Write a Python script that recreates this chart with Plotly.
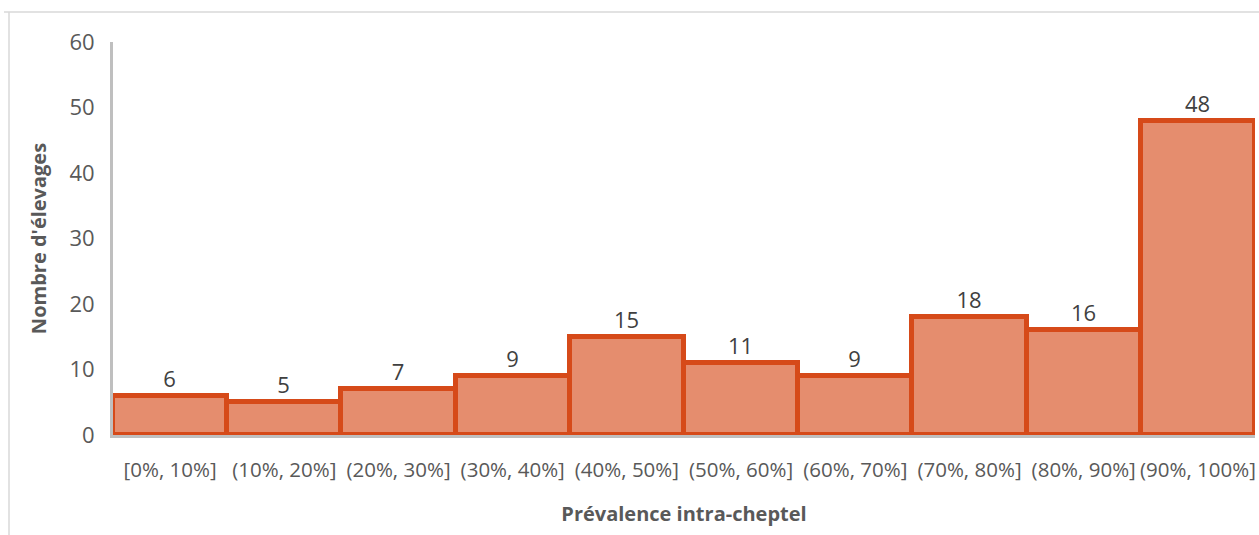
import plotly.graph_objects as go

categories = ["[0%, 10%]", "(10%, 20%]", "(20%, 30%]", "(30%, 40%]", "(40%, 50%]",
              "(50%, 60%]", "(60%, 70%]", "(70%, 80%]", "(80%, 90%]", "(90%, 100%]"]
counts = [6, 5, 7, 9, 15, 11, 9, 18, 16, 48]
y_ticks = [0, 10, 20, 30, 40, 50, 60]

W, H = 1259, 535
ml, mr, mt, mb = 113, 4, 42, 100

fig = go.Figure(go.Bar(
    x=categories, y=counts,
    marker=dict(color="#E58D6E", line=dict(color="#D64A19", width=5)),
    text=[str(c) for c in counts], textposition="outside",
    textfont=dict(family="Open Sans", size=22, color="#404040"),
    cliponaxis=False,
))

fig.update_layout(
    width=W, height=H,
    margin=dict(l=ml, r=mr, t=mt, b=mb),
    paper_bgcolor="white", plot_bgcolor="white",
    bargap=0, showlegend=False,
    font=dict(family="Open Sans", color="#595959"),
)
fig.update_xaxes(
    tickfont=dict(size=20.5, color="#595959"),
    showline=True, linecolor="#BFBFBF", linewidth=3,
    showgrid=False, ticks="", ticklabelstandoff=14,
    title=dict(text="<b>Prévalence intra-cheptel</b>", font=dict(size=20, color="#595959"), standoff=26),
)
fig.update_yaxes(
    range=[0, 60], tickvals=y_ticks,
    tickfont=dict(size=22, color="#595959"),
    showline=True, linecolor="#BFBFBF", linewidth=3,
    showgrid=False, ticks="", ticklabelstandoff=11, zeroline=False,
    title=dict(text="<b>Nombre d'élevages</b>", font=dict(size=20, color="#595959"), standoff=18),
)
# outer frame lines (top and left)
fig.add_shape(type="line", xref="paper", yref="paper",
              x0=(4 - ml) / (W - ml - mr), x1=1.01,
              y0=1 + (mt - 12) / (H - mt - mb), y1=1 + (mt - 12) / (H - mt - mb),
              line=dict(color="#D9D9D9", width=1.5))
fig.add_shape(type="line", xref="paper", yref="paper",
              x0=(9 - ml) / (W - ml - mr), x1=(9 - ml) / (W - ml - mr),
              y0=-(mb) / (H - mt - mb) - 0.01, y1=1 + (mt - 12) / (H - mt - mb),
              line=dict(color="#D9D9D9", width=1.5))

fig.write_html("out.html")
